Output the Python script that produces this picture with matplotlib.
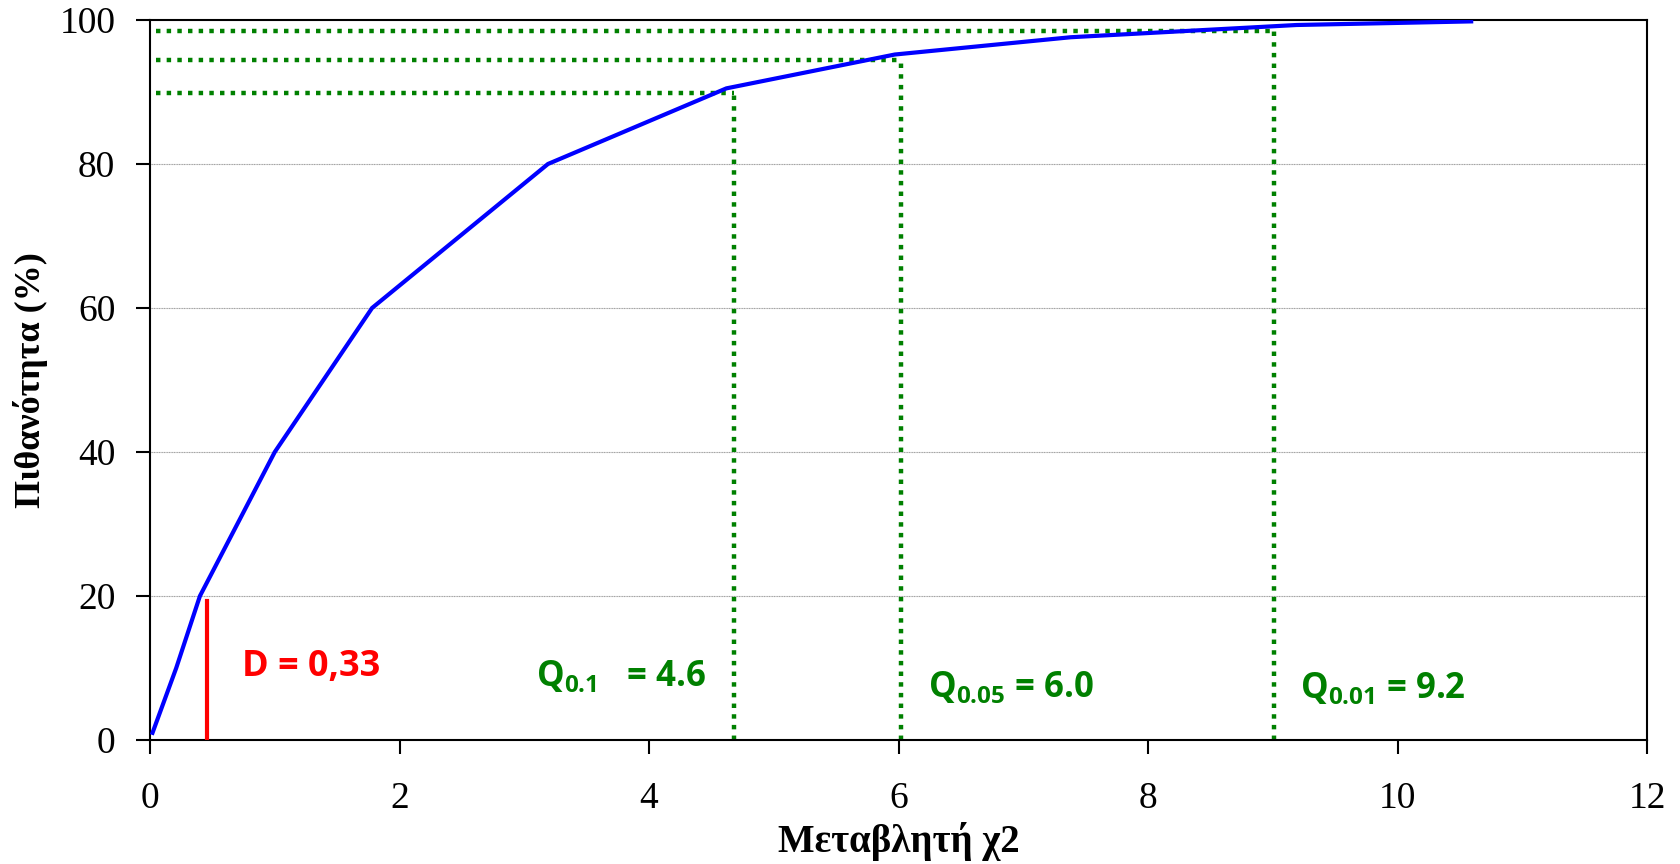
import numpy as np
import matplotlib
matplotlib.use('Agg')
from matplotlib import pyplot as plt

# chi2 cumulative curve (x, probability %)
chi_x = [0.02, 0.21, 0.40, 1.00, 1.78, 3.19, 4.62, 5.97, 7.38, 9.19, 10.59]
prob = [1, 10, 20, 40, 60, 80, 90.5, 95.2, 97.6, 99.3, 99.8]

# critical values (dotted lines): x position and probability level
q_x = [4.68, 6.02, 9.01]
q_y = [89.9, 94.4, 98.4]
q_labels = [r'$\mathrm{Q}_{0.1}$   = 4.6', r'$\mathrm{Q}_{0.05}$ = 6.0', r'$\mathrm{Q}_{0.01}$ = 9.2']
q_text_x = [3.09, 6.24, 9.22]
q_text_y = [8.8, 7.2, 7.1]

d_x = 0.455
d_top = 19.3

plt.rcParams['mathtext.fontset'] = 'custom'
plt.rcParams['mathtext.rm'] = 'Open Sans:bold'
plt.rcParams['mathtext.it'] = 'Open Sans:bold'
plt.rcParams['mathtext.bf'] = 'Open Sans:bold'

fig = plt.figure(figsize=(16.8, 8.64), dpi=100)
ax = fig.add_axes([0.0893, 0.1435, 0.8911, 0.8334])

ax.set_xlim(0, 12)
ax.set_ylim(0, 100)

for y in [20, 40, 60, 80]:
    ax.axhline(y, color='#a0a0a0', lw=0.8, ls=(0, (1, 0.5)), zorder=1)

green = '#008000'
for x, y in zip(q_x, q_y):
    ax.plot([0.05, x], [y, y], color=green, lw=3.2, ls=(0, (1, 1.4)), zorder=2)
    ax.plot([x, x], [0, y], color=green, lw=3.2, ls=(0, (1, 1.4)), zorder=2)

ax.plot(chi_x, prob, color='#0000ff', lw=3, zorder=3, solid_joinstyle='miter')
ax.plot([d_x, d_x], [0, d_top], color='#ff0000', lw=3, zorder=3)

ax.text(0.74, 10.1, 'D = 0,33', color='#ff0000', fontsize=26, fontweight='bold',
        family='Open Sans', va='center', ha='left')
for tx, ty, lab in zip(q_text_x, q_text_y, q_labels):
    ax.text(tx, ty, lab, color=green, fontsize=25, fontweight='bold',
            family='Open Sans', va='center', ha='left')

ax.set_xticks(range(0, 13, 2))
ax.set_yticks(range(0, 101, 20))
ax.tick_params(axis='both', direction='out', length=10, width=1.5,
               labelsize=27, labelfontfamily='Liberation Serif')
ax.tick_params(axis='x', pad=20)
ax.tick_params(axis='y', pad=15)
for s in ax.spines.values():
    s.set_linewidth(1.5)

ax.set_xlabel('Μεταβλητή χ2', fontsize=28, fontweight='bold', family='Liberation Serif', labelpad=4)
ax.set_ylabel('Πιθανότητα (%)', fontsize=26, fontweight='bold', family='Liberation Serif', labelpad=8)

fig.savefig('out.png', dpi=100)
